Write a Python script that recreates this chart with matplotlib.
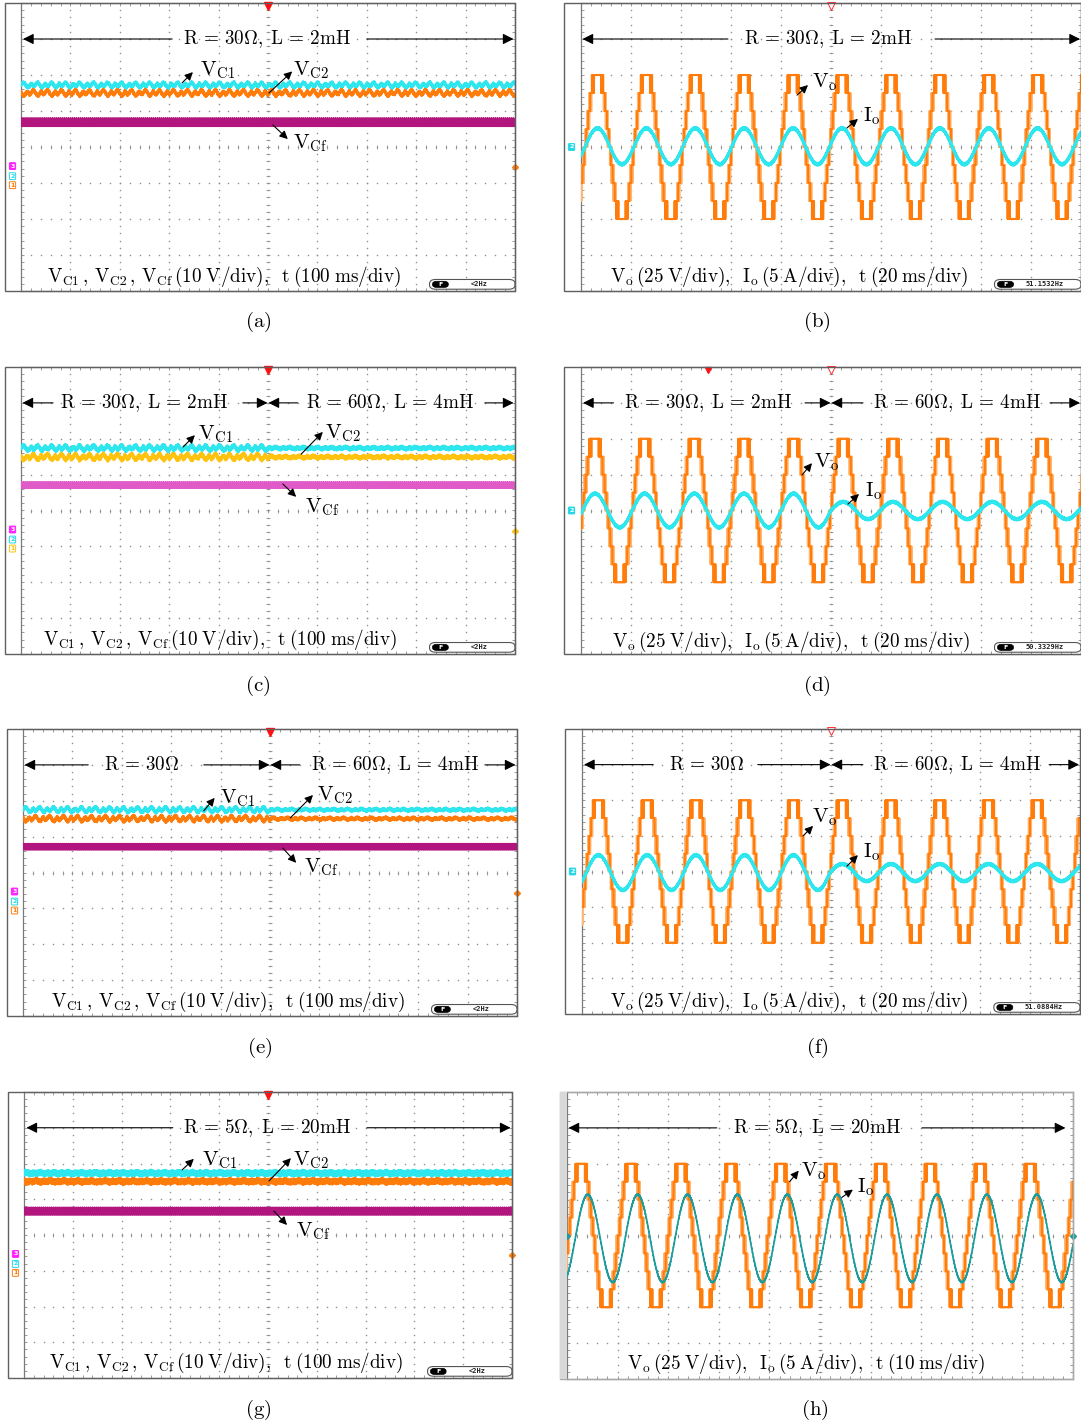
import numpy as np
import matplotlib.pyplot as plt
from matplotlib.patches import Rectangle, FancyBboxPatch

plt.rcParams['mathtext.fontset'] = 'cm'
plt.rcParams['font.family'] = 'DejaVu Serif'

W, H = 1081, 1428

# ---------------- values (screen divisions) ----------------
# DC capacitor voltages, panels a, c, e, g
vc1_level = [1.72, 1.74, 1.75, 1.73]
vc2_level = [1.50, 1.49, 1.50, 1.50]
vcf_level = [0.69, 0.71, 0.72, 0.67]
wobble_before = [0.07, 0.07, 0.07, 0.02]   # slow ripple left of the load step
wobble_after = [0.07, 0.025, 0.025, 0.02]  # slow ripple right of the load step
fuzz_amp = [0.03, 0.04, 0.03, 0.07]
wobble = [0.0, 0.5, 0.9, 1.0, 0.7, 0.2, -0.3, -0.7, -1.0, -0.8, -0.4, 0.1, 0.6, 0.3, -0.2, -0.6, -0.3]
fuzz = [0.9, -0.6, 0.4, -1.0, 0.7, -0.3, 1.0, -0.8, 0.2, -0.9, 0.6, -0.5, 0.8, -0.2]
vcf_fuzz = [1.0, -0.8, 0.6, -1.0, 0.9, -0.5, 0.8, -0.9, 0.4, -1.0, 0.7, -0.6]
vcf_band = [0.12, 0.09, 0.09, 0.11]

# output voltage / current, panels b, d, f, h
vo_period = [0.978, 0.993, 0.979, 0.986]
vo_first_peak = [0.33, 0.28, 0.33, 0.28]
vo_step = 0.5
vo_angles = [7, 21, 36, 56]            # staircase switching angles, degrees
pwm_windows = [(-9.0, -8.3), (-7.0, -6.2), (-5.2, -4.3), (-3.4, -2.4), (-1.6, -0.6),
               (0.6, 1.6), (2.4, 3.4), (4.3, 5.2), (6.2, 7.0), (8.3, 9.0)]
io_amp_before = [0.50, 0.47, 0.49, 1.22]
io_amp_after = [0.50, 0.24, 0.24, 1.22]
io_offset = [0.02, 0.0, -0.03, -0.08]
io_lag = [0.0, 0.0, 0.0, 0.13]         # divisions behind Vo

freq_labels = ['<2Hz', '51.1532Hz', '<2Hz', '50.3329Hz', '<2Hz', '51.0884Hz', '<2Hz', None]

# ---------------- layout (pixels) ----------------
panels = {
    'a': dict(outer=5, left=21, right=515, top=3, bottom=291, letter=(258, 322)),
    'b': dict(outer=564, left=581, right=1081, top=3, bottom=291, letter=(817, 322)),
    'c': dict(outer=5, left=21, right=515, top=367, bottom=654, letter=(258, 686)),
    'd': dict(outer=564, left=581, right=1081, top=367, bottom=654, letter=(817, 686)),
    'e': dict(outer=7, left=23, right=517, top=729, bottom=1016, letter=(260, 1048)),
    'f': dict(outer=565, left=582, right=1080, top=729, bottom=1014, letter=(817, 1048)),
    'g': dict(outer=8, left=24, right=512, top=1092, bottom=1378, letter=(258, 1410)),
    'h': dict(outer=560, left=567, right=1073, top=1092, bottom=1379, letter=(815, 1410)),
}

R30L2 = r'R\,=\,30\Omega,\;L\,=\,2mH'
R60L4 = r'R\,=\,60\Omega,\;L\,=\,4mH'
R5L20 = r'R\,=\,5\Omega,\;L\,=\,20mH'
R30 = r'R\,=\,30\Omega'
ranges = {
    'a': [(R30L2, 4.98, [(3.06, 0.04), (7.0, 9.97)])],
    'b': [(R30L2, 4.94, [(2.94, 0.03), (7.08, 9.98)])],
    'c': [(R30L2, 2.49, [(0.65, 0.03), (4.49, 4.99)]),
          (R60L4, 7.47, [(5.6, 5.01), (9.39, 9.97)])],
    'd': [(R30L2, 2.54, [(0.65, 0.04), (4.48, 4.99)]),
          (R60L4, 7.52, [(5.64, 5.01), (9.38, 9.98)])],
    'e': [(R30, 2.41, [(1.32, 0.03), (3.66, 4.99)]),
          (R60L4, 7.53, [(5.6, 5.01), (9.35, 9.97)])],
    'f': [(R30, 2.51, [(1.43, 0.04), (3.53, 4.99)]),
          (R60L4, 7.53, [(5.64, 5.01), (9.38, 9.98)])],
    'g': [(R5L20, 4.98, [(3.05, 0.05), (7.03, 9.97)])],
    'h': [(R5L20, 4.94, [(2.96, 0.03), (7.02, 9.85)])],
}

labels = {
    'a': [(r'V_{C1}', 3.62, 2.0, (3.26, 1.78), (3.48, 2.08)),
          (r'V_{C2}', 5.50, 2.0, (5.02, 1.50), (5.49, 2.10)),
          (r'V_{Cf}', 5.50, -0.03, (5.10, 0.61), (5.40, 0.22))],
    'c': [(r'V_{C1}', 3.58, 1.99, (3.28, 1.77), (3.52, 2.10)),
          (r'V_{C2}', 6.15, 2.0, (5.67, 1.57), (6.11, 2.19)),
          (r'V_{Cf}', 5.75, -0.04, (5.30, 0.74), (5.57, 0.38))],
    'e': [(r'V_{C1}', 3.99, 1.94, (3.66, 1.72), (3.88, 2.08)),
          (r'V_{C2}', 5.95, 2.02, (5.41, 1.52), (5.87, 2.16)),
          (r'V_{Cf}', 5.69, -0.01, (5.26, 0.68), (5.53, 0.27))],
    'g': [(r'V_{C1}', 3.65, 1.96, (3.24, 1.82), (3.48, 2.13)),
          (r'V_{C2}', 5.52, 1.96, (5.02, 1.51), (5.47, 2.15)),
          (r'V_{Cf}', 5.57, -0.05, (5.12, 0.67), (5.39, 0.28))],
    'b': [(r'V_o', 4.62, 1.67, (4.32, 1.44), (4.54, 1.72)),
          (r'I_o', 5.64, 0.72, (5.32, 0.53), (5.54, 0.78))],
    'd': [(r'V_o', 4.66, 1.21, (4.42, 0.99), (4.62, 1.32)),
          (r'I_o', 5.68, 0.38, (5.34, 0.18), (5.56, 0.46))],
    'f': [(r'V_o', 4.62, 1.37, (4.44, 1.00), (4.64, 1.28)),
          (r'I_o', 5.64, 0.41, (5.32, 0.15), (5.54, 0.46))],
    'h': [(r'V_o', 4.62, 1.64, (4.40, 1.50), (4.58, 1.81)),
          (r'I_o', 5.73, 1.20, (5.43, 1.06), (5.65, 1.28))],
}

DC_CAP = r'$\mathrm{V_{C1}\,,\,V_{C2}\,,\,V_{Cf}\,(10\;V/div),\;\;t\;(100\;ms/div)}$'
AC_CAP = r'$\mathrm{V_o\,(25\;V/div),\;\;I_o\,(5\;A/div),\;\;t\;(%s\;ms/div)}$'
captions = {'a': (DC_CAP, 0.53, -3.75), 'c': (DC_CAP, 0.45, -3.75),
            'e': (DC_CAP, 0.57, -3.75), 'g': (DC_CAP, 0.52, -3.72),
            'b': (AC_CAP % '20', 0.58, -3.75), 'd': (AC_CAP % '20', 0.62, -3.8),
            'f': (AC_CAP % '20', 0.56, -3.8), 'h': (AC_CAP % '10', 1.19, -3.73)}

FS = 15        # trace labels and panel letters
FS_TXT = 13.8  # range banners and captions inside the screens
CYAN, ORANGE, MAGENTA = '#2de6ee', '#ff7c0a', '#b3157f'
GOLD, PINK = '#ffc20e', '#e05ac8'
LIGHT_OR, TEAL = '#ffb874', '#1c9c9c'

fig = plt.figure(figsize=(W / 100, H / 100), dpi=100)


def make_axes(p, key):
    ax = fig.add_axes([p['left'] / W, 1 - p['bottom'] / H,
                       (p['right'] - p['left']) / W, (p['bottom'] - p['top']) / H])
    ax.set_xlim(0, 10)
    ax.set_ylim(-4, 4)
    for s in ax.spines.values():
        s.set_color('#7a7a7a')
        s.set_linewidth(0.9)
    gx = np.arange(0, 10.001, 0.2)
    gy = np.arange(-4, 4.001, 0.2)
    ax.set_xticks(gx)
    ax.set_yticks(gy)
    ax.tick_params(direction='in', length=2.5, width=0.6, color='#8a8a8a',
                   top=True, right=True, labelbottom=False, labelleft=False)
    for yk in range(-3, 4):
        ax.plot(gx, np.full_like(gx, yk), ls='none', marker='s', ms=1.0,
                mew=0, color='#8f8f8f', zorder=1)
    for xk in range(1, 10):
        ax.plot(np.full_like(gy, xk), gy, ls='none', marker='s', ms=1.0,
                mew=0, color='#8f8f8f', zorder=1)
    ax.plot(gx, np.zeros_like(gx), ls='none', marker='|', ms=3.5, mew=0.6,
            color='#8f8f8f', zorder=1)
    ax.plot(np.full_like(gy, 5), gy, ls='none', marker='_', ms=3.5, mew=0.6,
            color='#8f8f8f', zorder=1)
    # outer frame with the channel strip
    ec = '#a8a8a8' if key == 'h' else '#606060'
    fig.add_artist(Rectangle((p['outer'] / W, 1 - p['bottom'] / H),
                             (p['right'] - p['outer']) / W, (p['bottom'] - p['top']) / H,
                             transform=fig.transFigure, fill=False, ec=ec, lw=1.0))
    if key == 'h':
        fig.add_artist(Rectangle((p['outer'] / W, 1 - p['bottom'] / H),
                                 (p['left'] - p['outer']) / W, (p['bottom'] - p['top']) / H,
                                 transform=fig.transFigure, fc='#d8d8d8', ec='none'))
    fig.text(p['letter'][0] / W, 1 - p['letter'][1] / H,
             r'$\mathrm{(%s)}$' % key, fontsize=FS, ha='center', va='center')
    return ax


def arrow(ax, tail, head, lw=0.8, ms=13):
    ax.annotate('', xy=head, xytext=tail,
                arrowprops=dict(arrowstyle='-|>', color='black', lw=lw,
                                mutation_scale=ms, shrinkA=0, shrinkB=0), zorder=6)


def decorate(ax, key, idx):
    for txt, xc, segs in ranges[key]:
        ax.text(xc, 3.0, r'$\mathrm{%s}$' % txt, fontsize=FS_TXT, ha='center',
                va='center', zorder=6)
        for tail, head in segs:
            arrow(ax, (tail, 3.0), (head, 3.0), lw=0.8, ms=16)
    for txt, xt, yt, tail, head in labels[key]:
        ax.text(xt, yt, r'$\mathrm{%s}$' % txt, fontsize=FS, ha='left',
                va='baseline', zorder=6)
        arrow(ax, tail, head, lw=0.8, ms=12)
    cap, xc, yc = captions[key]
    ax.text(xc, yc, cap, fontsize=FS_TXT, ha='left', va='baseline', zorder=6)
    fl = freq_labels[idx]
    if fl is not None:
        ax.add_patch(FancyBboxPatch((8.27, -3.95), 1.73, 0.27,
                                    boxstyle='round,pad=0,rounding_size=0.12',
                                    fc='white', ec='#555555', lw=0.8, zorder=5,
                                    clip_on=False))
        ax.add_patch(FancyBboxPatch((8.33, -3.90), 0.32, 0.17,
                                    boxstyle='round,pad=0,rounding_size=0.08',
                                    fc='black', ec='black', lw=0.5, zorder=6,
                                    clip_on=False))
        ax.text(8.49, -3.815, 'F', fontsize=4.5, color='white', ha='center',
                va='center', family='DejaVu Sans', fontweight='bold', zorder=7)
        ax.text(9.28, -3.815, fl, fontsize=5, color='#222222', ha='center',
                va='center', family='DejaVu Sans Mono', fontweight='bold', zorder=7)


def strip_tag(ax, p, y, txt, color, filled):
    divw = (p['right'] - p['left']) / 10
    x = (p['outer'] + 7.5 - p['left']) / divw
    ax.text(x, y, txt, fontsize=4.5, ha='center', va='center',
            color='white' if filled else color, family='DejaVu Sans',
            fontweight='bold', zorder=6, clip_on=False,
            bbox=dict(boxstyle='round,pad=0.15', fc=color if filled else 'white',
                      ec=color, lw=0.7))


def in_window(d):
    m = np.zeros(d.shape, dtype=bool)
    for lo, hi in pwm_windows:
        m |= (d > lo) & (d < hi)
    return m


def staircase(t, period, first_peak, pwm_levels=()):
    t0 = first_peak - period / 4
    ph = ((t - t0) / period * 360.0) % 360.0
    sign = np.where(ph < 180, 1.0, -1.0)
    a = ph % 180.0
    n = np.zeros_like(t)
    for k, th in enumerate(vo_angles):
        up = a > th
        down = a < 180 - th
        if k in pwm_levels:
            up = up ^ in_window(a - th)
            down = down ^ in_window(180 - th - a)
        n += (up & down)
    return sign * n * vo_step


# ---------------- DC capacitor panels ----------------
for i, key in enumerate(['a', 'c', 'e', 'g']):
    p = panels[key]
    ax = make_axes(p, key)
    idx = 'abcdefgh'.index(key)
    c1, c2, cf = (CYAN, GOLD, PINK) if key == 'c' else (CYAN, ORANGE, MAGENTA)
    n = 1800
    t = np.linspace(0, 10, n)
    wob = np.resize(np.repeat(wobble, 3), n)
    amp = np.where(t < 5, wobble_before[i], wobble_after[i])
    fz = np.resize(fuzz, n) * fuzz_amp[i]
    ax.plot(t, vc1_level[i] + amp * wob + fz, color=c1, lw=2.0, zorder=3)
    wob2 = np.resize(np.repeat(wobble[5:] + wobble[:5], 3), n)
    ax.plot(t, vc2_level[i] + amp * 1.1 * wob2 + fz, color=c2, lw=2.0, zorder=3)
    tf = np.linspace(0, 10, 3000)
    ax.plot(tf, vcf_level[i] + np.resize(vcf_fuzz, tf.size) * vcf_band[i],
            color=cf, lw=1.0, zorder=3)
    strip_tag(ax, p, -0.53, '3', '#ff22ff', True)
    strip_tag(ax, p, -0.81, '2', '#22d8e8', False)
    strip_tag(ax, p, -1.06, '1', GOLD if key == 'c' else ORANGE, False)
    ax.plot([10], [-0.56], marker='D', ms=3, color=GOLD if key == 'c' else ORANGE,
            clip_on=False, zorder=6)
    ax.plot([5], [3.93], marker='v', ms=6, color='#ff1010', clip_on=False, zorder=6)
    decorate(ax, key, idx)

# ---------------- output voltage / current panels ----------------
for i, key in enumerate(['b', 'd', 'f', 'h']):
    p = panels[key]
    ax = make_axes(p, key)
    idx = 'abcdefgh'.index(key)
    t = np.linspace(0, 10, 40001)
    T, pk = vo_period[i], vo_first_peak[i]
    ax.plot(t, staircase(t, T, pk, (0, 1, 2, 3)), color=LIGHT_OR, lw=1.3, zorder=3)
    ax.plot(t, staircase(t, T, pk), color=ORANGE, lw=1.5, zorder=3)
    ax.plot(t, staircase(t, T, pk, (3,)), color=ORANGE, lw=0.9, zorder=3)
    t0 = pk - T / 4 + io_lag[i]
    amp = np.where(t < 5, io_amp_before[i], io_amp_after[i])
    io = io_offset[i] + amp * np.sin(2 * np.pi * (t - t0) / T)
    ti = t[::10]
    io_s = io[::10] + np.resize(fuzz, ti.size) * (0.015 if key == 'h' else 0.03)
    if key == 'h':
        ax.plot(ti, io_s, color=TEAL, lw=1.2, zorder=4)
        ax.plot([0, 10], [0, 0], ls='none', marker='D', ms=3, color=TEAL,
                clip_on=False, zorder=6)
    else:
        ax.plot(ti, io_s, color=CYAN, lw=1.8, zorder=4)
        strip_tag(ax, p, 0.0, '2', '#22d8e8', True)
        ax.plot([5], [3.93], marker='v', ms=6, mfc='white', mec='#ff3030',
                mew=0.7, clip_on=False, zorder=6)
        if key == 'd':
            ax.plot([2.54], [3.93], marker='v', ms=5, color='#ff1010',
                    clip_on=False, zorder=6)
    decorate(ax, key, idx)

fig.savefig('out.png', dpi=100)
